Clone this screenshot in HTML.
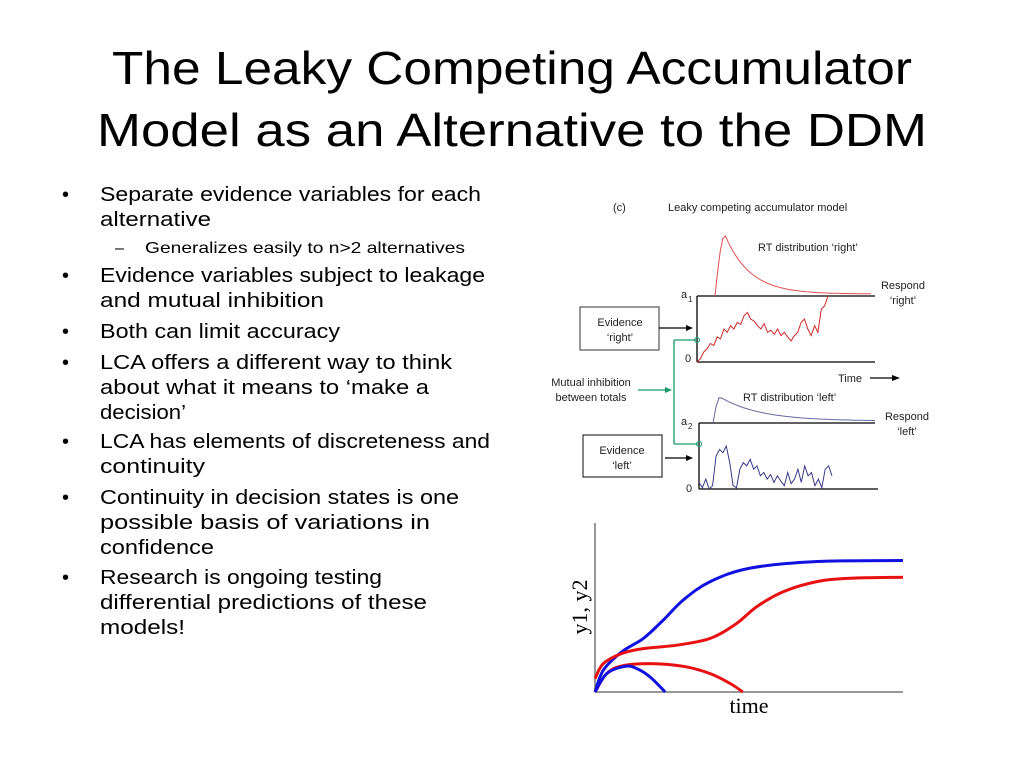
<!DOCTYPE html>
<html><head><meta charset="utf-8"><style>
html,body{margin:0;padding:0;background:#fff;}
svg{display:block;font-family:"Liberation Sans",sans-serif;}
</style></head><body>
<svg width="1024" height="768" viewBox="0 0 1024 768">
<g font-size="46" fill="#000">
<text x="112" y="84" textLength="800" lengthAdjust="spacingAndGlyphs">The Leaky Competing Accumulator</text>
<text x="97" y="146" textLength="830" lengthAdjust="spacingAndGlyphs">Model as an Alternative to the DDM</text>
</g>
<g font-size="20" fill="#000" id="bullets"></g>
<g id="diagram" font-size="11"></g>
<g id="chart"></g>
</svg>
<script>
const NS='http://www.w3.org/2000/svg';
function mk(tag,attrs,parent,txt){const e=document.createElementNS(NS,tag);for(const k in attrs)e.setAttribute(k,attrs[k]);if(txt!==undefined)e.textContent=txt;parent.appendChild(e);return e;}
// bullets
const bl=document.getElementById('bullets');
const lines=[
[1,201,"Separate evidence variables for each",381],[0,226,"alternative",111],
[2,253,"Generalizes easily to n>2 alternatives",320],
[1,282,"Evidence variables subject to leakage",385],[0,307,"and mutual inhibition",224],
[1,338,"Both can limit accuracy",240],
[1,369,"LCA offers a different way to think",352],[0,394,"about what it means to \u2018make a",329],[0,419,"decision\u2019",86],
[1,448,"LCA has elements of discreteness and",390],[0,473,"continuity",105],
[1,504,"Continuity in decision states is one",359],[0,529,"possible basis of variations in",330],[0,554,"confidence",114],
[1,584,"Research is ongoing testing",282],[0,609,"differential predictions of these",327],[0,634,"models!",85]];
lines.forEach(l=>{
 if(l[0]===1){const b=mk('text',{x:62,y:l[1]},bl,'\u2022');}
 if(l[0]===2){const b=mk('text',{x:115,y:l[1],'font-size':16},bl,'\u2013');}
 const x=l[0]===2?145:100;
 const t=mk('text',{x:x,y:l[1],textLength:l[3],lengthAdjust:'spacingAndGlyphs','font-size':l[0]===2?16:20},bl,l[2]);
 
 
});
// diagram
const dg=document.getElementById('diagram');
function txt(x,y,s,name,anchor){const t=mk('text',{x:x,y:y,'text-anchor':anchor||'start',fill:'#222'},dg,s);return t;}
function ln(x1,y1,x2,y2,c,name,w){const l=mk('line',{x1,y1,x2,y2,stroke:c,'stroke-width':w||1.3},dg);return l;}
txt(613,211,'(c)','panel-label');
txt(668,211,'Leaky competing accumulator model','diagram-title');
// top panel
ln(697,296,875,296,'#000','threshold-a1');ln(697,362,875,362,'#000','baseline-right');ln(697,296,697,362,'#000','axis-right');
txt(681,298,'a','a1-label');txt(688,302,'1','a1-sub').setAttribute('font-size','8');
txt(685,362,'0','zero-right');
txt(758,251,'RT distribution \u2018right\u2019','rt-right-label');
txt(903,289,'Respond','respond-right','middle');txt(903,304,'\u2018right\u2019','respond-right-2','middle');
const br=mk('rect',{x:580,y:307,width:79,height:43,fill:'#fff',stroke:'#555','stroke-width':1.2},dg);
txt(620,326,'Evidence','evidence-right-text','middle');txt(620,341,'\u2018right\u2019','evidence-right-text-2','middle');
ln(659,328,688,328,'#000','evidence-right-arrow');mk('path',{d:'M693,328 L686,325 L686,331Z',fill:'#000'},dg);
// RT right curve
let d='M715,296';for(let i=0;i<=60;i++){const x=715+i*2.6,t=(x-715);const y=296-61*Math.pow(t/10,1.3)*Math.exp(-(t-10)/28)/Math.pow(1,1)*(t<10?1:1);d+=' L'+x.toFixed(1)+','+Math.min(296,Math.max(234,(t<10?296-61*Math.sin(Math.PI/2*t/10):294-59*Math.exp(-(t-10)/25)))).toFixed(1);}
const rr=mk('path',{d:d,fill:'none',stroke:'#e05050','stroke-width':1},dg);
// bottom panel
ln(699,423,875,423,'#000','threshold-a2');ln(699,489,878,489,'#000','baseline-left');ln(699,423,699,489,'#000','axis-left');
txt(681,425,'a','a2-label');txt(688,429,'2','a2-sub').setAttribute('font-size','8');
txt(686,492,'0','zero-left');
txt(743,401,'RT distribution \u2018left\u2019','rt-left-label');
txt(907,420,'Respond','respond-left','middle');txt(907,435,'\u2018left\u2019','respond-left-2','middle');
const bb=mk('rect',{x:583,y:435,width:79,height:42,fill:'#fff',stroke:'#333','stroke-width':1.2},dg);
txt(622,454,'Evidence','evidence-left-text','middle');txt(622,469,'\u2018left\u2019','evidence-left-text-2','middle');
ln(665,458,688,458,'#000','evidence-left-arrow');mk('path',{d:'M693,458 L686,455 L686,461Z',fill:'#000'},dg);
d='M713,423';for(let i=0;i<=54;i++){const t=i*3;const y=t<7?423-26*Math.sin(Math.PI/2*t/7):421-24*Math.exp(-(t-7)/40);d+=' L'+(713+t)+','+y.toFixed(1);}
const rl=mk('path',{d:d,fill:'none',stroke:'#6666a0','stroke-width':1},dg);
// green inhibition
ln(674,340,697,340,'#1a9a6a','inhibition-top');ln(674,340,674,444,'#1a9a6a','inhibition-vertical');ln(674,444,699,444,'#1a9a6a','inhibition-bottom');
mk('circle',{cx:697,cy:340,r:2.5,fill:'none',stroke:'#1a9a6a'},dg);mk('circle',{cx:699,cy:444,r:2.5,fill:'none',stroke:'#1a9a6a'},dg);
txt(591,386,'Mutual inhibition','inhibition-label','middle');txt(591,401,'between totals','inhibition-label-2','middle');
ln(638,390,667,390,'#1a9a6a','inhibition-arrow');mk('path',{d:'M672,390 L665,387 L665,393Z',fill:'#1a9a6a'},dg);
txt(838,382,'Time','time-label');ln(870,378,893,378,'#000','time-arrow');mk('path',{d:'M900,378 L892,375 L892,381Z',fill:'#000'},dg);
// noise traces (fraction of panel height)
const redTrace=[0,0.05,0.15,0.2,0.28,0.25,0.38,0.35,0.5,0.45,0.55,0.5,0.6,0.57,0.7,0.75,0.65,0.62,0.55,0.5,0.58,0.45,0.48,0.42,0.5,0.4,0.45,0.38,0.32,0.4,0.45,0.6,0.65,0.5,0.4,0.55,0.45,0.8,0.85,1.0];
const blueTrace=[0.1,0.02,0.15,0,0.05,0.5,0.6,0.55,0.65,0.4,0.05,0.02,0.3,0.4,0.35,0.45,0.3,0.35,0.2,0.25,0.15,0.22,0.1,0.2,0.12,0.05,0.25,0.08,0.15,0.3,0.1,0.35,0.2,0.25,0.05,0.15,0.02,0.3,0.35,0.2];
function trace(arr,x0,x1,yb,h,c,name){let p='';arr.forEach((v,i)=>{const x=x0+(x1-x0)*i/(arr.length-1);p+=(i?' L':'M')+x.toFixed(1)+','+(yb-v*h).toFixed(1);});const e=mk('path',{d:p,fill:'none',stroke:c,'stroke-width':1},dg);}
trace(redTrace,697,828,362,66,'#d02828','evidence-trace-right');
trace(blueTrace,699,832,489,66,'#3a3a8a','evidence-trace-left');
// bottom chart
const cg=document.getElementById('chart');
const X0=595,X1=903,Y0=692,Y1=523;
const tBlueTop=[0,2.7,8.7,15.7,22.2,28.7,37.4,50.4,72.0,100];
const vBlueTop=[0,12.9,23.8,31.7,42.6,54.5,65.3,73.3,77.2,77.8];
const tRedTop=[0,2.7,8.7,15.7,26.5,37.4,46.0,52.5,61.2,72.0,82.9,100];
const vRedTop=[7.9,16.8,22.8,25.7,27.7,31.7,40.6,50.5,59.4,65.3,67.3,67.9];
const tRedLow=[0,3.8,8.7,17.9,28.7,37.4,43.9,48.0];
const vRedLow=[0,10.9,15.4,16.8,15.2,10.9,5.0,0];
const tBlueLow=[0,3.8,9.8,13.5,17.9,22.8];
const vBlueLow=[0,10.9,15.2,13.9,8.9,0];
const sx=t=>X0+(X1-X0)*t/100, sy=v=>Y0-(Y0-Y1)*v/100;
function curve(ts,vs,c,name){const P=ts.map((t,i)=>[sx(t),sy(vs[i])]);let p='M'+P[0][0]+','+P[0][1];
 for(let i=0;i<P.length-1;i++){const a=P[Math.max(0,i-1)],b=P[i],c2=P[i+1],e=P[Math.min(P.length-1,i+2)];
 p+=' C'+(b[0]+(c2[0]-a[0])/6).toFixed(1)+','+(b[1]+(c2[1]-a[1])/6).toFixed(1)+' '+(c2[0]-(e[0]-b[0])/6).toFixed(1)+','+(c2[1]-(e[1]-b[1])/6).toFixed(1)+' '+c2[0].toFixed(1)+','+c2[1].toFixed(1);}
 const el=mk('path',{d:p,fill:'none',stroke:c,'stroke-width':3},cg);}
const ya=mk('line',{x1:X0,y1:Y1,x2:X0,y2:Y0,stroke:'#777','stroke-width':1.5},cg);
const xa=mk('line',{x1:X0,y1:Y0,x2:X1,y2:Y0,stroke:'#777','stroke-width':1.5},cg);
curve(tBlueTop,vBlueTop,'#1010e0','y2-winner-curve');
curve(tRedTop,vRedTop,'#e81010','y1-top-curve');
curve(tRedLow,vRedLow,'#e81010','y1-low-curve');
curve(tBlueLow,vBlueLow,'#1010e0','y2-low-curve');
const xt=mk('text',{x:749,y:713,'text-anchor':'middle','font-family':'Liberation Serif, serif','font-size':22,fill:'#000'},cg,'time');
const yt=mk('text',{x:0,y:0,transform:'translate(587,607) rotate(-90)','text-anchor':'middle','font-family':'Liberation Serif, serif','font-size':22,fill:'#000'},cg,'y1,  y2');
</script>
</body></html>
